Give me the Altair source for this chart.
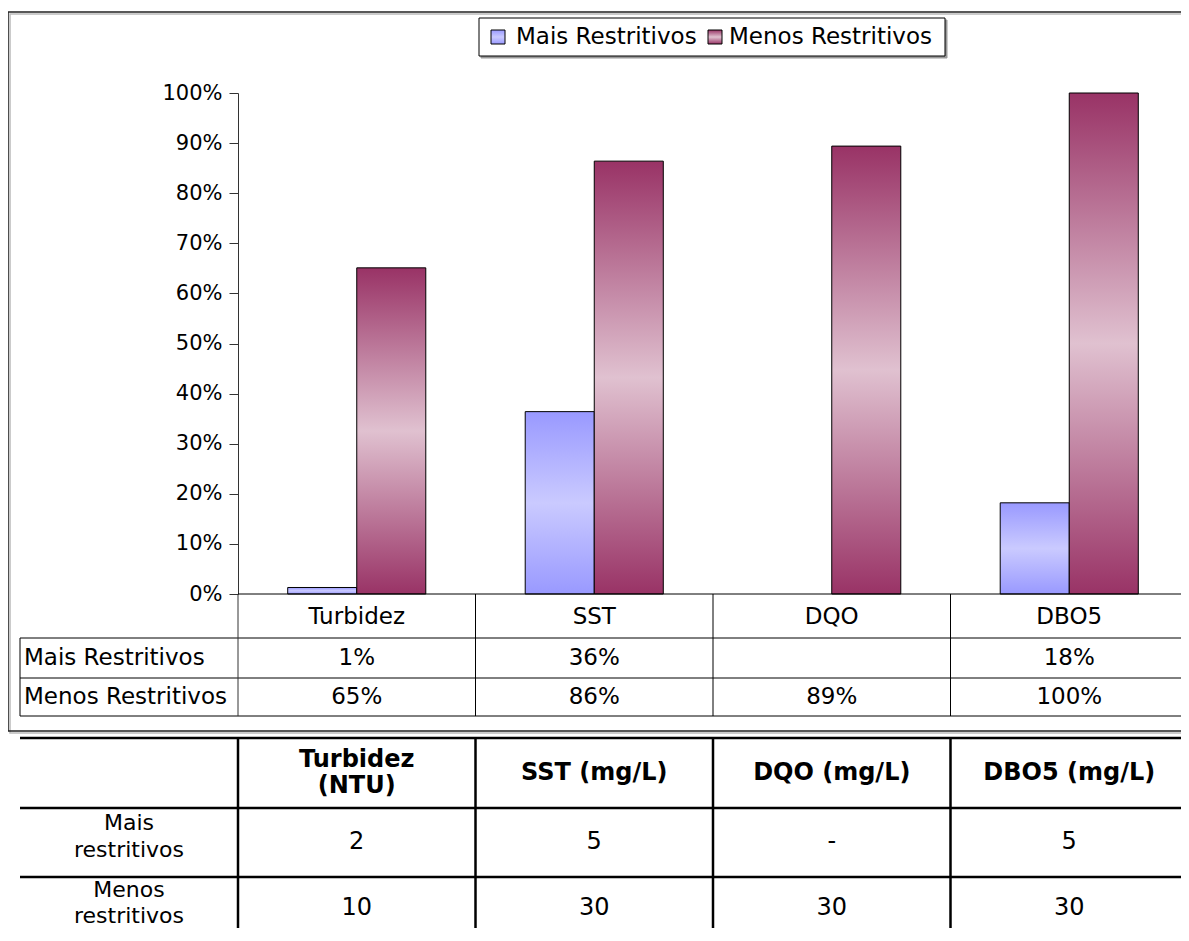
import altair as alt
import pandas as pd

# ---------------- data ----------------
categories = ["Turbidez", "SST", "DQO", "DBO5"]
series = ["Mais Restritivos", "Menos Restritivos"]
mais_values = [0.013, 0.364, None, 0.182]
menos_values = [0.651, 0.864, 0.894, 1.0]
mais_labels = ["1%", "36%", "", "18%"]
menos_labels = ["65%", "86%", "89%", "100%"]
y_ticks = [0.0, 0.1, 0.2, 0.3, 0.4, 0.5, 0.6, 0.7, 0.8, 0.9, 1.0]

limit_headers = ["Turbidez\n(NTU)", "SST (mg/L)", "DQO (mg/L)", "DBO5 (mg/L)"]
limit_rows = ["Mais\nrestritivos", "Menos\nrestritivos"]
limits_mais = ["2", "5", "-", "5"]
limits_menos = ["10", "30", "30", "30"]

# ---------------- tables built from the arrays ----------------
bars = pd.DataFrame(
    [{"cat": c, "series": series[0], "value": v} for c, v in zip(categories, mais_values) if v is not None]
    + [{"cat": c, "series": series[1], "value": v} for c, v in zip(categories, menos_values)]
)
cells = pd.DataFrame({
    "cat": categories,
    "mais_lbl": mais_labels,
    "menos_lbl": menos_labels,
    "hdr": limit_headers,
    "lim_mais": limits_mais,
    "lim_menos": limits_menos,
})
one = pd.DataFrame({"k": [0]})

FONT = "DejaVu Sans"
FS = 23

blue_grad = alt.LinearGradient(
    gradient="linear", x1=0, y1=0, x2=0, y2=1,
    stops=[alt.GradientStop(color="#9999ff", offset=0),
           alt.GradientStop(color="#cacaff", offset=0.5),
           alt.GradientStop(color="#9999ff", offset=1)])
maroon_grad = alt.LinearGradient(
    gradient="linear", x1=0, y1=0, x2=0, y2=1,
    stops=[alt.GradientStop(color="#993366", offset=0),
           alt.GradientStop(color="#e0c1d0", offset=0.5),
           alt.GradientStop(color="#993366", offset=1)])
grads = [blue_grad, maroon_grad]

# band scale spans the full plot (to the right page edge)
xscale = alt.Scale(domain=categories, range=[0, 950], paddingInner=0, paddingOuter=0)


def xcat(**kw):
    return alt.X("cat:N", scale=xscale, axis=None, **kw)


def rule(x, x2, y, y2, w=1.0, color="black"):
    return alt.Chart(one).mark_rule(color=color, strokeWidth=w).encode(
        x=alt.value(x), x2=alt.value(x2), y=alt.value(y), y2=alt.value(y2))


def label(text, x, y, align="left", size=FS, weight="normal", lh=26):
    return alt.Chart(one).mark_text(
        text=text, align=align, baseline="middle", font=FONT, fontSize=size,
        fontWeight=weight, color="black", lineBreak="\n", lineHeight=lh
    ).encode(x=alt.value(x), y=alt.value(y))


layers = []

# chart frame (with a faint shadow)
layers.append(alt.Chart(one).mark_rect(fillOpacity=0, stroke="#bbbbbb", strokeWidth=1.5).encode(
    x=alt.value(-228), x2=alt.value(1000), y=alt.value(-79), y2=alt.value(640)))
layers.append(alt.Chart(one).mark_rect(fillOpacity=0, stroke="#222222", strokeWidth=1.6).encode(
    x=alt.value(-230), x2=alt.value(1000), y=alt.value(-81), y2=alt.value(638)))

# legend
layers.append(alt.Chart(one).mark_rect(fill="#999999", stroke="#999999", strokeWidth=1).encode(
    x=alt.value(243), x2=alt.value(709), y=alt.value(-73), y2=alt.value(-35)))
layers.append(alt.Chart(one).mark_rect(fill="white", stroke="black", strokeWidth=1).encode(
    x=alt.value(241), x2=alt.value(707), y=alt.value(-75), y2=alt.value(-37)))
for i, (sx, tx) in enumerate([(253, 278), (470, 491)]):
    layers.append(alt.Chart(one).mark_rect(fill=grads[i], stroke="black", strokeWidth=1).encode(
        x=alt.value(sx), x2=alt.value(sx + 14), y=alt.value(-63), y2=alt.value(-49)))
    layers.append(label(series[i], tx, -56, size=23))

# bars
yenc = alt.Y("value:Q", scale=alt.Scale(domain=[0, 1]),
             axis=alt.Axis(values=y_ticks, format=".0%", labelFontSize=21, labelFont=FONT,
                           labelColor="black", tickColor="#333333", tickSize=9, domainColor="#333333",
                           grid=False, title=None, labelPadding=7))
for i, s in enumerate(series):
    layers.append(
        alt.Chart(bars).transform_filter(alt.datum.series == s).mark_bar(
            fill=grads[i], stroke="black", strokeWidth=1
        ).encode(
            x=xcat(),
            xOffset=alt.XOffset("series:N", scale=alt.Scale(domain=series, paddingInner=0, paddingOuter=0.72)),
            y=yenc,
        )
    )

# data table lines
layers.append(rule(0, 960, 501, 501))          # x baseline
for yy in [545, 585, 623]:
    layers.append(rule(-218, 960, yy, yy))
layers.append(rule(-218, -218, 545, 623))
layers.append(rule(0, 0, 501, 623, color="#333333"))
layers.append(
    alt.Chart(cells).transform_filter(alt.datum.cat != categories[0]).mark_rule(color="black", strokeWidth=1)
    .encode(x=xcat(bandPosition=0), y=alt.value(501), y2=alt.value(623)))

# data table text
txt = dict(font=FONT, fontSize=FS, color="black", baseline="middle", align="center")
layers.append(alt.Chart(cells).mark_text(**txt).encode(x=xcat(), y=alt.value(524), text="cat:N"))
layers.append(alt.Chart(cells).mark_text(**txt).encode(x=xcat(), y=alt.value(565), text="mais_lbl:N"))
layers.append(alt.Chart(cells).mark_text(**txt).encode(x=xcat(), y=alt.value(604), text="menos_lbl:N"))
layers.append(label(series[0], -214, 565))
layers.append(label(series[1], -214, 604))

# bottom limits table
for yy in [645, 715, 784]:
    layers.append(rule(-218, 960, yy, yy, w=2.5))
layers.append(
    alt.Chart(cells).mark_rule(color="black", strokeWidth=2.5)
    .encode(x=xcat(bandPosition=0), y=alt.value(645), y2=alt.value(860)))
big = dict(font=FONT, fontSize=24, color="black", baseline="middle", align="center", lineBreak="\n", lineHeight=26)
multi = "indexof(datum.hdr, '\\n') >= 0"
layers.append(alt.Chart(cells).transform_filter(multi).mark_text(fontWeight="bold", **big)
              .encode(x=xcat(), y=alt.value(667), text="hdr:N"))
layers.append(alt.Chart(cells).transform_filter("!(" + multi + ")").mark_text(fontWeight="bold", **big)
              .encode(x=xcat(), y=alt.value(680), text="hdr:N"))
layers.append(alt.Chart(cells).mark_text(**big).encode(x=xcat(), y=alt.value(749), text="lim_mais:N"))
layers.append(alt.Chart(cells).mark_text(**big).encode(x=xcat(), y=alt.value(815), text="lim_menos:N"))
layers.append(label(limit_rows[0], -109, 730, align="center", size=22, lh=27))
layers.append(label(limit_rows[1], -109, 797, align="center", size=22, lh=26))

chart = alt.layer(*layers).properties(
    width=943, height=501,
    autosize=alt.AutoSizeParams(type="none"),
    padding={"left": 230, "top": 85, "right": 0, "bottom": 334},
).configure(font=FONT, background="white").configure_view(strokeWidth=0)

chart.save("out.html", embed_options={"renderer": "svg", "actions": False})
